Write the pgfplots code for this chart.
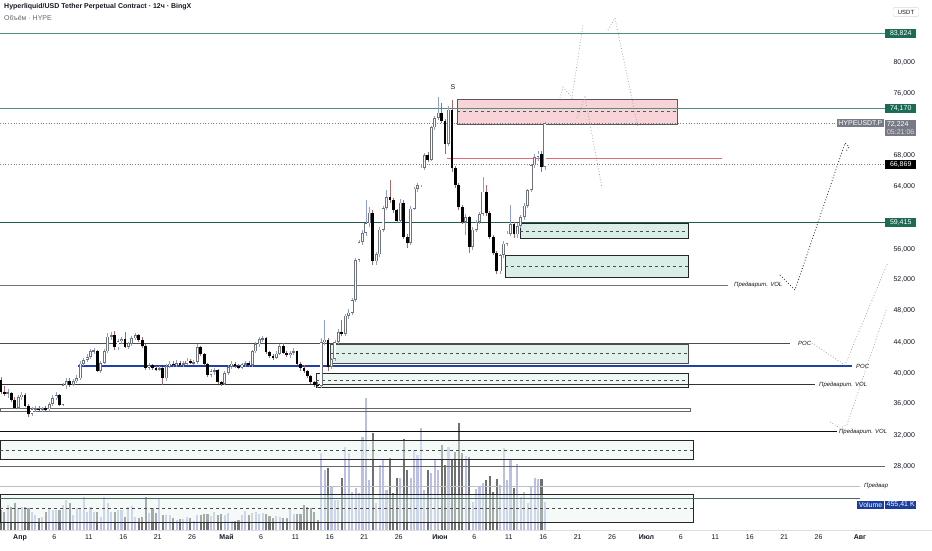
\documentclass[border=0pt]{standalone}
\usepackage{pgfplots}
\pgfplotsset{compat=1.18}
\usepackage{pgfplotstable}
\usepackage{fontspec}
\setmainfont{Liberation Sans}
\definecolor{tvteal}{HTML}{4E8F7E}
\definecolor{tvgreen}{HTML}{1B6B55}
\definecolor{tvdkgreen}{HTML}{1E5C4B}
\definecolor{tvgray}{HTML}{787B86}
\definecolor{tvtext}{HTML}{131722}
\definecolor{wickup}{HTML}{8E9FD6}
\definecolor{wickdn}{HTML}{A86868}
\definecolor{bodyline}{HTML}{6F737C}
\definecolor{volup}{HTML}{B9BFE6}
\definecolor{voldn}{HTML}{6C716F}
\definecolor{pinkfill}{HTML}{F8D3D7}
\definecolor{greenfill}{HTML}{D9EEE6}
\definecolor{pocblue}{HTML}{1E40A8}
\definecolor{redline}{HTML}{E06A78}
\definecolor{volblue}{HTML}{1B3D9C}
\newcommand\tf{\fontsize{7}{8.4}\selectfont}
\newcommand\smf{\fontsize{6}{7}\selectfont}
\pgfplotsset{bars/.style={only marks, mark size=0pt, mark options={draw=none, fill=none},
  error bars/.cd, y dir=both, y explicit, error mark=none, error bar style={#1}}}

% k open high low close volume(px)
\pgfplotstableread{
k o h l c v
2 37.3 37.9 36.8 37.5 25
5 35.5 37.2 35.3 36.9 22
6 36.9 37.6 36.5 37.2 23
9 34.7 35.6 34.4 35.3 18
10 35.3 35.7 35.0 35.4 15
12 35.2 35.6 35.0 35.4 13
14 35.3 36.3 35.1 36.0 22
15 36.0 37.1 35.8 36.8 20
16 36.8 37.5 36.5 37.1 20
18 35.9 38.7 35.7 38.4 25
19 38.4 39.4 38.0 39.0 30
21 38.5 39.2 38.3 39.0 15
22 39.0 39.7 38.7 39.3 22
23 39.3 41.5 39.1 41.2 22
24 41.2 42.0 40.9 41.7 33
25 41.7 42.4 41.4 42.1 18
26 42.1 43.1 41.8 42.8 23
27 42.8 43.2 42.5 42.9 18
29 40.3 41.6 40.0 41.3 13
30 41.3 43.1 41.1 42.8 33
31 42.8 45.2 42.6 44.7 27
32 44.7 45.3 44.3 44.9 18
34 43.3 44.4 43.0 44.1 20
35 44.1 44.6 43.8 44.4 20
37 43.4 44.0 43.1 43.8 23
38 43.8 44.8 43.5 44.5 24
39 44.5 45.2 44.2 44.9 13
43 40.7 41.3 40.4 41.0 17
46 40.5 40.9 40.2 40.6 32
48 39.3 41.2 39.0 40.9 15
49 40.9 41.6 40.6 41.2 15
51 41.0 41.7 40.8 41.3 10
53 41.1 41.5 40.8 41.2 11
54 41.2 41.9 41.0 41.6 13
56 41.3 41.7 41.0 41.4 9
57 41.4 43.8 41.2 43.3 15
61 39.8 40.5 39.5 40.2 14
62 40.2 40.6 39.8 40.4 18
65 38.6 40.3 38.4 40.0 15
66 40.0 41.0 39.8 40.8 17
67 40.8 41.5 40.5 41.2 9
70 40.7 41.3 40.5 41.1 15
71 41.1 41.5 40.8 41.3 19
73 41.0 43.0 40.8 42.8 17
74 42.8 44.0 42.6 43.7 18
75 43.7 44.6 43.4 44.4 16
76 44.4 44.8 44.0 44.5 17
80 42.0 42.8 41.8 42.5 14
81 42.5 43.8 42.3 43.5 13
84 42.3 42.9 42.0 42.6 21
85 42.6 43.2 42.3 42.8 16
93 38.3 44.5 38.1 44.0 77
94 44.0 46.8 43.6 44.3 60
96 40.8 42.0 40.5 41.8 43
97 41.8 44.3 41.6 44.0 30
98 44.0 45.7 43.8 45.3 30
100 45.0 47.6 44.8 47.4 83
101 47.4 48.3 47.0 47.8 77
102 47.8 49.7 47.5 49.4 38
103 49.4 54.8 49.2 54.6 42
104 54.6 57.2 54.3 56.9 37
105 56.9 58.4 56.5 58.1 93
106 58.1 62.3 57.7 59.3 132
107 59.3 61.4 58.9 60.7 50
109 54.4 55.6 54.0 55.3 27
110 55.3 58.8 55.0 58.5 65
111 58.5 61.6 58.2 61.3 70
112 61.3 63.6 61.0 62.7 40
116 59.6 62.4 59.3 62.0 52
119 56.8 61.5 56.5 61.2 52
120 61.2 64.0 61.0 63.8 80
121 63.8 64.5 63.4 64.2 75
122 64.2 66.8 64.0 66.5 102
123 66.5 68.4 66.2 68.1 40
125 67.5 71.9 67.3 71.7 57
126 71.7 73.2 71.4 72.9 70
127 72.9 75.6 72.6 73.6 60
130 69.6 74.5 69.3 74.0 83
135 59.5 60.5 57.8 60.1 74
137 56.3 58.8 55.9 58.5 28
138 58.5 59.8 58.2 59.5 41
139 59.5 60.8 59.2 60.5 43
140 60.5 65.3 60.2 63.4 47
145 53.1 55.4 52.8 55.2 45
146 55.2 57.0 54.9 56.7 82
147 56.7 58.3 56.4 58.0 50
148 58.0 61.7 57.7 59.2 70
150 57.9 59.3 57.4 59.0 66
151 59.0 60.4 58.7 60.1 33
152 60.1 61.9 59.8 61.6 38
153 61.6 63.8 61.3 63.6 27
154 63.6 67.0 63.3 66.8 43
155 66.8 68.2 66.4 67.9 52
156 67.9 68.6 67.4 68.3 51
158 66.6 72.4 66.2 72.2 28
}\up

\pgfplotstableread{
k o h l c v
0 39.1 39.5 37.3 37.6 20
1 37.6 38.3 37.0 37.3 18
3 37.4 37.6 36.2 36.5 23
4 36.5 36.9 35.3 35.5 27
7 37.2 37.4 35.6 35.8 23
8 35.8 36.0 34.3 34.7 22
11 35.4 35.8 35.1 35.2 12
13 35.4 35.7 35.1 35.3 18
17 37.1 37.3 35.7 35.9 20
20 39.0 39.3 38.2 38.5 27
28 42.9 43.0 40.1 40.3 18
33 44.9 45.4 43.0 43.3 18
36 44.4 45.3 43.2 43.4 13
40 44.9 45.0 44.0 44.3 12
41 44.3 44.6 43.2 43.5 13
42 43.5 43.7 40.4 40.7 33
44 41.0 41.2 40.4 40.6 22
45 40.6 40.9 40.2 40.5 17
47 40.6 40.8 38.5 39.3 15
50 41.2 41.5 40.8 41.0 12
52 41.3 41.6 40.9 41.1 11
55 41.6 41.8 41.1 41.3 12
58 43.3 43.5 42.2 42.4 15
59 42.4 42.6 41.0 41.2 16
60 41.2 41.3 39.5 39.8 16
63 40.4 40.5 38.6 38.8 15
64 38.8 39.0 38.3 38.6 16
68 41.2 41.4 40.7 40.9 9
69 40.9 41.1 40.5 40.7 10
72 41.3 41.6 40.8 41.0 15
77 44.5 44.7 42.5 42.7 16
78 42.7 42.9 41.9 42.2 14
79 42.2 42.4 41.7 42.0 12
82 43.5 43.9 42.4 42.6 12
83 42.6 42.8 42.1 42.3 12
86 42.8 42.9 41.0 41.2 16
87 41.2 41.4 40.3 40.6 16
88 40.6 41.0 40.0 40.2 25
89 40.2 40.4 39.4 39.6 23
90 39.6 39.8 38.6 38.8 22
91 38.8 39.0 38.2 38.5 18
92 38.5 38.8 38.1 38.3 10
95 44.3 44.5 40.3 40.8 62
99 45.3 46.9 44.8 45.0 52
108 60.7 61.0 54.0 54.4 97
113 62.7 64.9 62.0 62.3 72
114 62.3 62.6 60.7 61.0 37
115 61.0 61.2 59.3 59.6 52
117 62.0 62.3 57.3 57.6 91
118 57.6 57.9 56.1 56.8 60
124 68.1 68.5 67.2 67.5 60
128 73.6 74.8 72.2 72.5 85
129 72.5 72.8 68.3 69.6 65
131 74.0 75.2 66.0 66.4 70
132 66.4 66.7 63.9 64.2 78
133 64.2 64.5 61.0 61.4 107
134 61.4 61.7 59.2 59.5 77
136 60.1 60.3 55.5 56.3 73
141 63.4 64.2 60.3 60.6 50
142 60.6 60.9 57.3 57.6 54
143 57.6 57.8 55.2 55.5 38
144 55.5 55.7 52.8 53.1 51
149 59.2 59.5 57.4 57.9 42
157 68.3 68.6 66.0 66.6 51
}\down

\begin{document}
\begin{tikzpicture}
\useasboundingbox (0,0) rectangle (932pt,550pt);
\begin{axis}[
  at={(0pt,20pt)}, anchor=south west,
  width=885pt, height=530pt, scale only axis,
  xmin=-2.905, xmax=125.64, ymin=19.742, ymax=88.129,
  axis line style={draw=none},
  major tick length=0pt,
  clip=false,
  ytick={28,32,36,40,44,48,52,56,64,68,76,80},
  yticklabels={{28,000},{32,000},{36,000},{40,000},{44,000},{48,000},{52,000},{56,000},{64,000},{68,000},{76,000},{80,000}},
  yticklabel pos=right,
  yticklabel style={anchor=west, xshift=5pt, font=\tf, text=tvtext},
  xtick={0,5,10,15,20,25,30,35,40,45,50,55,61,66,71,76,81,86,91,96,101,106,111,116,122},
  xticklabels={\textbf{Апр},6,11,16,21,26,\textbf{Май},6,11,16,21,26,\textbf{Июн},6,11,16,21,26,\textbf{Июл},6,11,16,21,26,\textbf{Авг}},
  xticklabel style={font=\tf, text=tvtext, yshift=-1pt},
]
% volume
\addplot[bars={line width=2.1pt, volup}]
  table[x expr=0.5*\thisrow{k}-2.76, y expr=19.742+\thisrow{v}/15.5, y error expr=\thisrow{v}/15.5] {\up};
\addplot[bars={line width=2.1pt, voldn}]
  table[x expr=0.5*\thisrow{k}-2.76, y expr=19.742+\thisrow{v}/15.5, y error expr=\thisrow{v}/15.5] {\down};

% boxes
\draw[fill=pinkfill, draw=gray!70!black, line width=0.7pt] (axis cs:63.47,75.35) rectangle (axis cs:95.42,72.13);
\draw[dashed, gray!70!black, line width=0.5pt] (axis cs:63.47,73.8) -- (axis cs:95.42,73.8);
\draw[fill=greenfill, draw=gray!30!black, line width=0.7pt] (axis cs:72.62,59.3) rectangle (axis cs:97.02,57.4);
\draw[dashed, gray!60!black, line width=0.5pt] (axis cs:72.62,58.35) -- (axis cs:97.02,58.35);
\draw[fill=greenfill, draw=gray!30!black, line width=0.7pt] (axis cs:70.44,55.2) rectangle (axis cs:97.02,52.4);
\draw[dashed, gray!60!black, line width=0.5pt] (axis cs:70.44,53.8) -- (axis cs:97.02,53.8);
\draw[fill=greenfill, fill opacity=0.8, draw=gray!60!black, line width=0.7pt] (axis cs:45.03,43.75) rectangle (axis cs:97.02,41.3);
\draw[dashed, gray!60!black, line width=0.5pt] (axis cs:45.03,42.58) -- (axis cs:97.02,42.58);
\draw[fill=greenfill!40, draw=gray!30!black, line width=0.7pt] (axis cs:42.99,40.0) rectangle (axis cs:97.02,38.19);
\draw[dashed, gray!60!black, line width=0.5pt] (axis cs:42.99,39.1) -- (axis cs:97.02,39.1);
\draw[draw=gray!80!black, line width=0.7pt] (axis cs:-2.905,35.48) rectangle (axis cs:97.3,35.1);
\draw[fill=greenfill!60, fill opacity=0.5, draw=gray!30!black, line width=0.7pt] (axis cs:-2.905,31.35) rectangle (axis cs:97.75,28.9);
\draw[dashed, gray!60!black, line width=0.5pt] (axis cs:-2.905,30.06) -- (axis cs:97.75,30.06);
\draw[fill=greenfill!60, fill opacity=0.45, draw=gray!30!black, line width=0.7pt] (axis cs:-2.905,24.39) rectangle (axis cs:97.75,20.77);
\draw[dashed, gray!60!black, line width=0.5pt] (axis cs:-2.905,22.58) -- (axis cs:97.75,22.58);

% horizontal levels
\draw[tvteal, line width=0.8pt] (axis cs:-2.905,83.824) -- (axis cs:125.64,83.824);
\draw[tvteal, line width=0.8pt] (axis cs:-2.905,74.17) -- (axis cs:125.64,74.17);
\draw[tvgray, dotted, line width=0.7pt] (axis cs:-2.905,72.224) -- (axis cs:119.6,72.224);
\draw[tvgray, dotted, line width=0.7pt] (axis cs:-2.905,66.869) -- (axis cs:125.64,66.869);
\draw[redline, line width=0.7pt] (axis cs:62.02,67.74) -- (axis cs:101.96,67.74);
\draw[tvdkgreen, line width=1.1pt] (axis cs:-2.905,59.415) -- (axis cs:125.64,59.415);
\draw[gray!90!black, line width=0.7pt] (axis cs:-2.905,51.35) -- (axis cs:102.83,51.35);
\draw[gray!60!black, line width=0.7pt] (axis cs:-2.905,43.87) -- (axis cs:111.84,43.87);
\draw[pocblue, line width=1.1pt] (axis cs:8.4,40.9) -- (axis cs:120.84,40.9);
\draw[gray!40!black, line width=0.7pt] (axis cs:-2.905,38.58) -- (axis cs:115.47,38.58);
\draw[gray!10!black, line width=1.0pt] (axis cs:-2.905,32.39) -- (axis cs:118.66,32.39);
\draw[gray!80!black, line width=0.7pt] (axis cs:-2.905,27.9) -- (axis cs:125.64,27.9);
\draw[gray!50, line width=0.9pt] (axis cs:-2.905,25.42) -- (axis cs:122.0,25.42);
\draw[gray!40!tvdkgreen, line width=0.8pt] (axis cs:-2.905,23.87) -- (axis cs:122.0,23.87);

% dotted projections
\draw[gray!70, dotted, line width=0.8pt] (axis cs:78.43,75.48) -- (axis cs:78.87,76.90) -- (axis cs:80.17,75.48) -- (axis cs:81.77,84.90);
\draw[gray!70, dotted, line width=0.8pt] (axis cs:85.40,84.26) -- (axis cs:86.42,85.81) -- (axis cs:89.76,71.74);
\draw[gray!70, dotted, line width=0.8pt] (axis cs:80.90,72.90) -- (axis cs:82.06,75.61) -- (axis cs:84.53,63.87);
\draw[gray!50!black, dotted, line width=0.9pt] (axis cs:110.38,52.65) -- (axis cs:112.56,50.71) -- (axis cs:119.83,69.68) -- (axis cs:120.4,69.2) -- (axis cs:120.0,68.6);
\draw[gray!70, dotted, line width=0.8pt] (axis cs:115.03,43.87) -- (axis cs:119.83,41.03) -- (axis cs:126.07,54.32);
\draw[gray!70, dotted, line width=0.8pt] (axis cs:117.65,33.68) -- (axis cs:119.1,32.90) -- (axis cs:120.1,33.29) -- (axis cs:125.9,48.39);

% candles: wicks
\addplot[bars={line width=0.7pt, wickup}]
  table[x expr=0.5*\thisrow{k}-2.76, y expr=(\thisrow{h}+\thisrow{l})/2, y error expr=(\thisrow{h}-\thisrow{l})/2] {\up};
\addplot[bars={line width=0.7pt, wickdn}]
  table[x expr=0.5*\thisrow{k}-2.76, y expr=(\thisrow{h}+\thisrow{l})/2, y error expr=(\thisrow{h}-\thisrow{l})/2] {\down};
% bodies
\addplot[bars={line width=2.9pt, bodyline}]
  table[x expr=0.5*\thisrow{k}-2.76, y expr=(\thisrow{o}+\thisrow{c})/2, y error expr={max((\thisrow{c}-\thisrow{o})/2,0.08)}] {\up};
\addplot[bars={line width=1.3pt, white}]
  table[x expr=0.5*\thisrow{k}-2.76, y expr=(\thisrow{o}+\thisrow{c})/2, y error expr={max((\thisrow{c}-\thisrow{o})/2-0.1,0)}] {\up};
\addplot[bars={line width=2.8pt, black}]
  table[x expr=0.5*\thisrow{k}-2.76, y expr=(\thisrow{o}+\thisrow{c})/2, y error expr={max((\thisrow{o}-\thisrow{c})/2,0.08)}] {\down};

% level labels
\node[font=\smf\itshape, text=gray!20!black, anchor=west, inner sep=1pt] at (axis cs:103.56,51.35) {Предварит. VOL};
\node[font=\smf\itshape, text=gray!20!black, anchor=west, inner sep=1pt] at (axis cs:112.85,43.87) {POC};
\node[font=\smf\itshape, text=gray!20!black, anchor=west, inner sep=1pt] at (axis cs:121.28,40.85) {POC};
\node[font=\smf\itshape, text=gray!20!black, anchor=west, inner sep=1pt] at (axis cs:115.9,38.45) {Предварит. VOL};
\node[font=\smf\itshape, text=gray!20!black, anchor=west, inner sep=1pt] at (axis cs:118.8,32.39) {Предварит. VOL};
\node[font=\smf\itshape, text=gray!20!black, anchor=west, inner sep=1pt] at (axis cs:122.44,25.42) {Предвар};
\node[font=\tf, text=tvtext] at (axis cs:62.89,76.9) {S};

% price-scale labels
\node[fill=tvgreen, text=white, font=\tf, anchor=west, inner sep=1.5pt, minimum width=31pt] at (axis cs:125.64,83.824) {83,824};
\node[fill=tvgreen, text=white, font=\tf, anchor=west, inner sep=1.5pt, minimum width=31pt] at (axis cs:125.64,74.17) {74,170};
\node[fill=tvgray, text=white, font=\tf, anchor=east, inner sep=1.5pt] at (axis cs:125.5,72.224) {HYPEUSDT.P};
\node[fill=tvgray, text=white, font=\tf, anchor=north west, inner sep=1.5pt, align=left, minimum width=31pt] at (axis cs:125.64,72.63) {72,224\\[-1pt]{\color{white!85!black}05:21:06}};
\node[fill=black, text=white, font=\tf, anchor=west, inner sep=1.5pt, minimum width=31pt] at (axis cs:125.64,66.869) {66,869};
\node[fill=tvgreen, text=white, font=\tf, anchor=west, inner sep=1.5pt, minimum width=31pt] at (axis cs:125.64,59.415) {59,415};
\node[fill=volblue, text=white, font=\tf, anchor=east, inner sep=1.5pt] at (axis cs:125.5,22.97) {Volume};
\node[fill=volblue, text=white, font=\tf, anchor=west, inner sep=1.5pt] at (axis cs:125.64,22.97) {455,41 K};

% title and scale header
\node[font=\tf\bfseries, text=tvtext, anchor=north west, inner sep=0pt] at ([xshift=4pt,yshift=-3pt]rel axis cs:0,1) {Hyperliquid/USD Tether Perpetual Contract · 12ч · BingX};
\node[font=\tf, text=gray!80!black, anchor=north west, inner sep=0pt] at ([xshift=4pt,yshift=-15pt]rel axis cs:0,1) {Объём · HYPE};
\node[font=\smf, text=tvtext, draw=gray!30, rounded corners=2pt, inner sep=2.5pt, minimum width=26pt] at ([xshift=21pt,yshift=-12pt]rel axis cs:1,1) {USDT};
\draw[gray!25, line width=0.6pt] (rel axis cs:0,0) -- ([xshift=47pt]rel axis cs:1,0);
\end{axis}
\end{tikzpicture}
\end{document}
